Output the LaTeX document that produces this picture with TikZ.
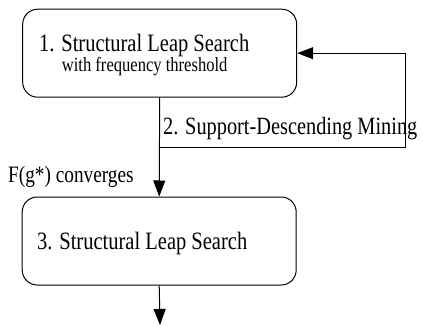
\documentclass[tikz,border=0pt]{standalone}
\usepackage{fontspec}
\usetikzlibrary{arrows.meta}
\newfontfamily\cf[FakeStretch=0.82]{Liberation Serif}
\tikzset{
  box/.style={draw, rounded corners=15pt, line width=1pt, minimum width=274pt, minimum height=88pt, inner sep=0pt},
  lbl/.style={anchor=base west, inner sep=0pt},
  arr/.style={line width=1pt, -{Triangle[length=16pt,width=12pt]}},
}
\begin{document}
\begin{tikzpicture}[x=1pt,y=-1pt]
\useasboundingbox (0,0) rectangle (423,326);
\node[box] (b1) at (159.7,53.2) {};
\node[box] (b2) at (159.2,241) {};
\node[lbl, font=\cf\fontsize{25}{28}\selectfont] (t1) at (39,51.7) {1. Structural Leap Search};
\node[lbl, font=\cf\fontsize{20.2}{24}\selectfont] (t1b) at (61.7,71.7) {with frequency threshold};
\node[lbl, font=\cf\fontsize{25}{28}\selectfont] (t3) at (37,249) {3. Structural Leap Search};
\node[lbl, font=\cf\fontsize{24.8}{28}\selectfont] (l2) at (163,135) {2. Support-Descending Mining};
\node[lbl, font=\cf\fontsize{23.5}{28}\selectfont] (l3) at (8,182.7) {F(g*) converges};
\coordinate (j) at (160,148);
\coordinate (r) at (405,148);
\coordinate (out) at (160,325);
\draw[arr] (b1.south) -- (b2.north);
\draw[arr] (j) -- (r) |- (b1.east);
\draw[arr] (b2.south) -- (out);
\end{tikzpicture}
\end{document}
